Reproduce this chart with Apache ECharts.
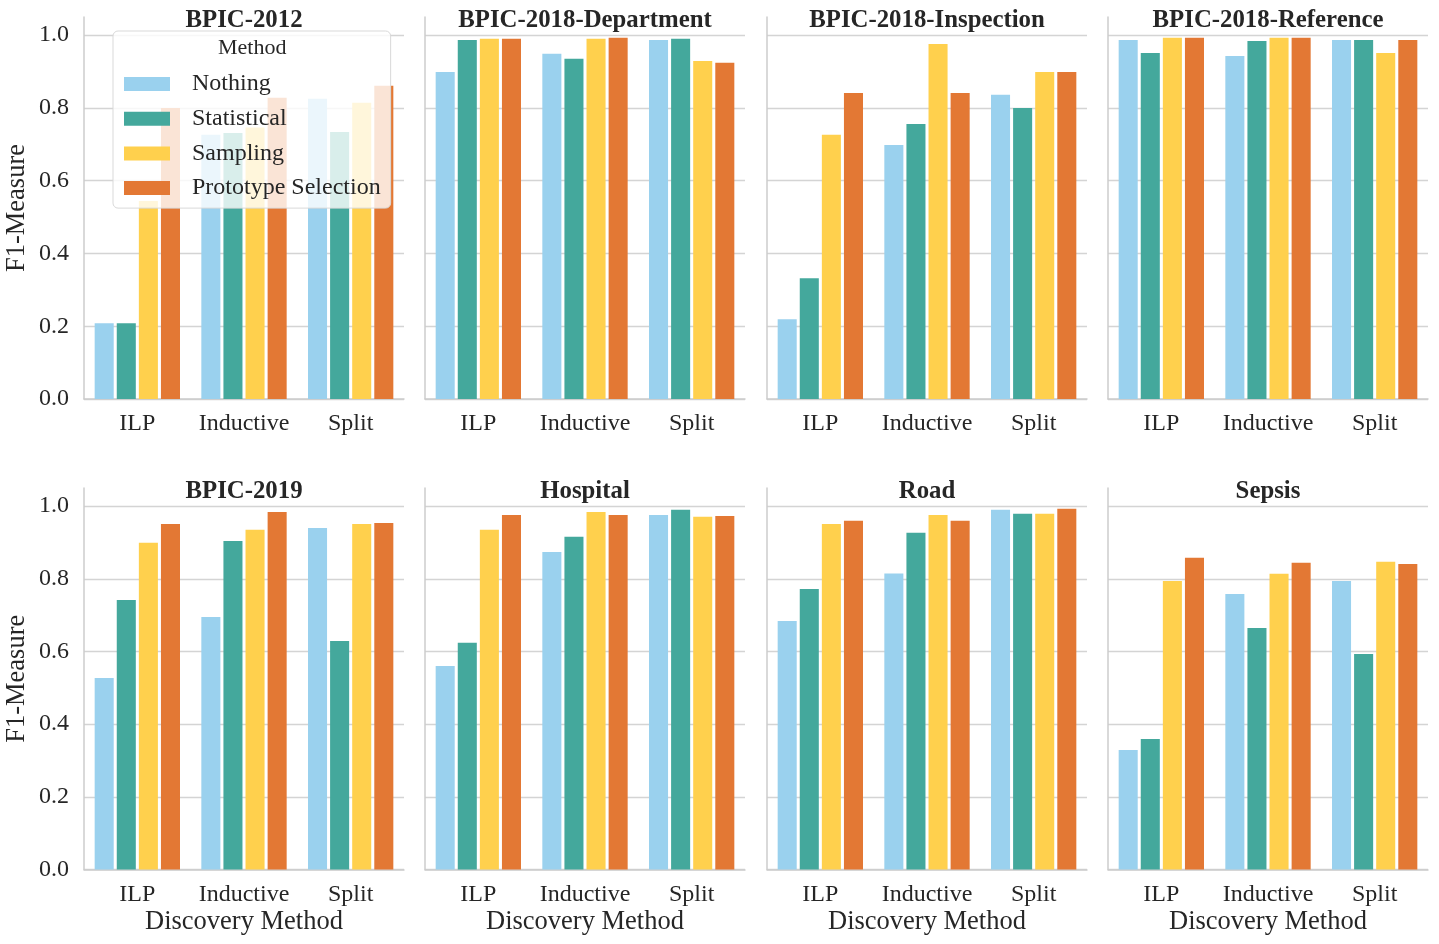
<!DOCTYPE html>
<html>
<head>
<meta charset="utf-8">
<script src="https://cdn.jsdelivr.net/npm/echarts@6/dist/echarts.min.js"></script>
<style>
html,body{margin:0;padding:0;background:#fff;}
#c{width:1439px;height:944px;}
</style>
</head>
<body>
<div id="c"></div>
<script>
const datasets = ['BPIC-2012','BPIC-2018-Department','BPIC-2018-Inspection','BPIC-2018-Reference','BPIC-2019','Hospital','Road','Sepsis'];
const categories = ['ILP','Inductive','Split'];
const methods = ['Nothing','Statistical','Sampling','Prototype Selection'];
const yTicks = [0, 0.2, 0.4, 0.6, 0.8, 1.0];
// values per dataset: [ILP, Inductive, Split]
const nothing = [
  [0.208,0.726,0.825],
  [0.899,0.949,0.987],
  [0.219,0.698,0.836],
  [0.987,0.943,0.987],
  [0.527,0.695,0.940],
  [0.560,0.874,0.976],
  [0.684,0.815,0.990],
  [0.329,0.758,0.794]
];
const statistical = [
  [0.208,0.731,0.734],
  [0.987,0.935,0.990],
  [0.332,0.756,0.800],
  [0.951,0.984,0.987],
  [0.742,0.904,0.629],
  [0.624,0.916,0.990],
  [0.772,0.927,0.979],
  [0.359,0.665,0.593]
];
const sampling = [
  [0.544,0.746,0.814],
  [0.990,0.990,0.929],
  [0.726,0.976,0.899],
  [0.993,0.993,0.951],
  [0.899,0.935,0.951],
  [0.935,0.984,0.971],
  [0.951,0.976,0.979],
  [0.794,0.814,0.847]
];
const prototype = [
  [0.800,0.828,0.861],
  [0.990,0.993,0.924],
  [0.841,0.841,0.899],
  [0.993,0.993,0.987],
  [0.951,0.984,0.954],
  [0.976,0.976,0.973],
  [0.960,0.960,0.993],
  [0.858,0.844,0.841]
];
const methodValues = [nothing, statistical, sampling, prototype];
const colors = ['#9AD1EE','#44A89C','#FFD04D','#E37834'];

const FONT = "'Liberation Serif','Times New Roman',serif";
const TXT = '#262626';
const GRIDC = '#cccccc';

const lefts = [84, 425, 767, 1108];
const W = 320;
const rows = [{top:17, h:382}, {top:488, h:381.5}];

const grids = [], xAxes = [], yAxes = [], series = [], titles = [];
datasets.forEach((name, i) => {
  const r = Math.floor(i / 4), c = i % 4;
  grids.push({left: lefts[c], top: rows[r].top, width: W, height: rows[r].h, containLabel: false});
  xAxes.push({
    type: 'category', gridIndex: i, data: categories,
    axisLine: {show: true, lineStyle: {color: GRIDC, width: 1.5}},
    axisTick: {show: false},
    axisLabel: {interval: 0, fontFamily: FONT, fontSize: 24, color: TXT, margin: 13},
    name: r === 1 ? 'Discovery Method' : '',
    nameLocation: 'middle', nameGap: 39,
    nameTextStyle: {fontFamily: FONT, fontSize: 26.5, color: TXT}
  });
  yAxes.push({
    type: 'value', gridIndex: i, min: 0, max: 1.05, interval: 0.2,
    axisLine: {show: true, lineStyle: {color: GRIDC, width: 1.5}},
    axisTick: {show: false},
    splitLine: {show: true, showMaxLine: false, lineStyle: {color: '#d4d4d4', width: 1.4}},
    axisLabel: {show: c === 0, showMaxLabel: false, fontFamily: FONT, fontSize: 24, color: TXT, margin: 15,
      formatter: v => (yTicks.some(t => Math.abs(t - v) < 1e-9) ? v.toFixed(1) : '')},
    name: c === 0 ? 'F1-Measure' : '',
    nameLocation: 'middle', nameGap: 53,
    nameTextStyle: {fontFamily: FONT, fontSize: 26.5, color: TXT}
  });
  titles.push({
    text: name, left: lefts[c] + W / 2, top: r === 0 ? 8 : 479, textAlign: 'center',
    padding: 0,
    textStyle: {fontFamily: FONT, fontSize: 24.8, fontWeight: 'bold', color: TXT}
  });
  methods.forEach((m, k) => {
    series.push({
      type: 'bar', name: m, xAxisIndex: i, yAxisIndex: i,
      data: methodValues[k][i],
      barCategoryGap: '20%', barGap: '16%',
      itemStyle: {color: colors[k]},
      emphasis: {disabled: true},
      z: 2
    });
  });
});

const chart = echarts.init(document.getElementById('c'), null, {renderer: 'canvas'});
chart.setOption({
  animation: false,
  backgroundColor: '#ffffff',
  title: titles,
  grid: grids,
  xAxis: xAxes,
  yAxis: yAxes,
  series: series,
  legend: {
    data: methods, orient: 'vertical', left: 113, top: 31,
    padding: [41, 10, 8, 11],
    itemWidth: 46, itemHeight: 14, itemGap: 10.7,
    icon: 'rect',
    backgroundColor: 'rgba(255,255,255,0.8)',
    borderColor: '#d9d9d9', borderWidth: 1, borderRadius: 5,
    textStyle: {fontFamily: FONT, fontSize: 24, color: TXT, lineHeight: 24, padding: [0, 0, 0, 17]},
    selectedMode: false, z: 10
  },
  graphic: [{
    type: 'text', left: 218, top: 37, z: 20,
    style: {text: 'Method', font: "22px 'Liberation Serif','Times New Roman',serif", fill: TXT}
  }]
});
</script>
</body>
</html>
